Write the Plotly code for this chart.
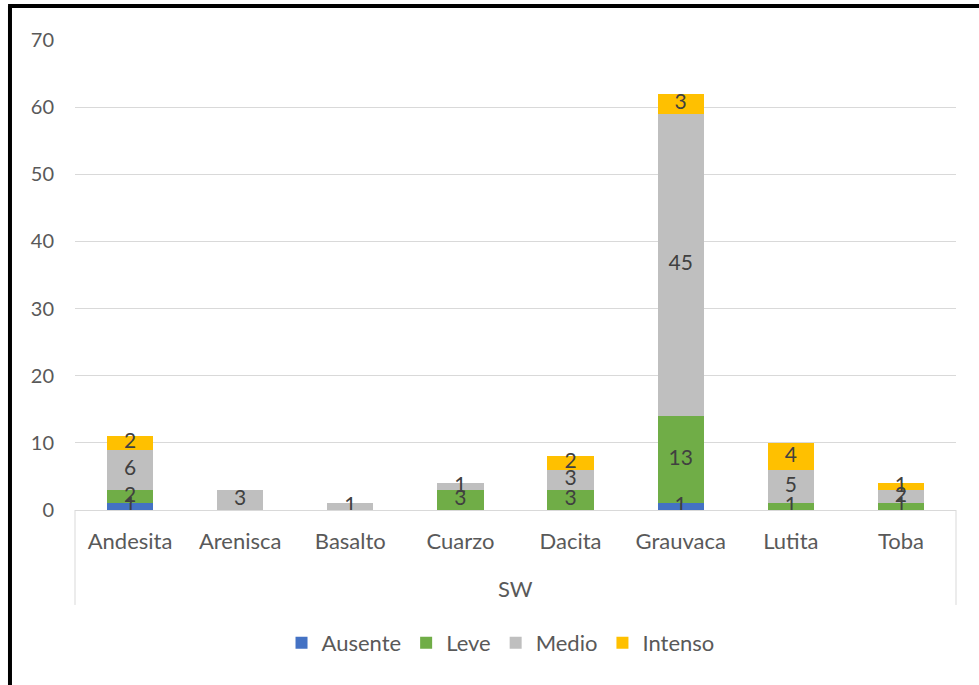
import plotly.graph_objects as go

# Rock types grouped under the "SW" sector
group = "SW"
rocks = ["Andesita", "Arenisca", "Basalto", "Cuarzo", "Dacita", "Grauvaca", "Lutita", "Toba"]

# Counts per alteration level
ausente = [1, 0, 0, 0, 0, 1, 0, 0]
leve = [2, 0, 0, 3, 3, 13, 1, 1]
medio = [6, 3, 1, 1, 3, 45, 5, 2]
intenso = [2, 0, 0, 0, 2, 3, 4, 1]

series = [
    ("Ausente", ausente, "#4472C4"),
    ("Leve", leve, "#70AD47"),
    ("Medio", medio, "#BFBFBF"),
    ("Intenso", intenso, "#FFC000"),
]

y_ticks = [0, 10, 20, 30, 40, 50, 60, 70]

FONT = "Lato, Carlito, Calibri, sans-serif"
TXT = "#595959"

fig = go.Figure()
for name, vals, color in series:
    fig.add_trace(go.Bar(
        name=name, x=rocks, y=vals,
        marker=dict(color=color, line=dict(width=0)),
        hoverinfo="y+name",
    ))

# Segment labels centred on each stacked piece
lx, ly, lt = [], [], []
base = [0] * len(rocks)
for name, vals, color in series:
    for i, v in enumerate(vals):
        if v > 0:
            lx.append(rocks[i])
            ly.append(base[i] + v / 2)
            lt.append(str(v))
        base[i] += v
fig.add_trace(go.Scatter(
    x=lx, y=ly, text=lt, mode="text",
    textfont=dict(family=FONT, size=21, color="#404040"),
    showlegend=False, hoverinfo="skip",
))

fig.update_layout(
    barmode="stack",
    bargap=0.58,
    width=979, height=685,
    margin=dict(l=75, r=23, t=40, b=175),
    paper_bgcolor="white", plot_bgcolor="white",
    font=dict(family=FONT, size=21, color=TXT),
    xaxis=dict(
        type="category",
        showline=True, linecolor="#D9D9D9", linewidth=1,
        ticks="", showgrid=False,
        tickfont=dict(family=FONT, size=22, color=TXT),
        ticklabelstandoff=12,
    ),
    yaxis=dict(
        range=[0, 70], tickvals=y_ticks,
        showgrid=True, gridcolor="#D9D9D9", gridwidth=1,
        zeroline=False, showline=False, ticks="",
        tickfont=dict(family=FONT, size=20, color=TXT),
        ticklabelstandoff=20,
    ),
    legend=dict(
        orientation="h", x=0.483, xanchor="center", y=-0.283, yanchor="middle",
        font=dict(family=FONT, size=22, color=TXT),
        itemwidth=30, traceorder="normal",
    ),
    showlegend=True,
)

# Group label and its divider lines below the category axis
fig.add_annotation(text=group, xref="paper", yref="paper", x=0.5, y=-0.166,
                   showarrow=False, font=dict(family=FONT, size=22, color=TXT),
                   yanchor="middle")
for xp in (0, 1):
    fig.add_shape(type="line", xref="paper", yref="paper",
                  x0=xp, x1=xp, y0=0, y1=-0.202,
                  line=dict(color="#D9D9D9", width=1))

# Frame lines along the left and top edges
fig.add_shape(type="line", xref="paper", yref="paper",
              x0=-0.0738, x1=-0.0738, y0=1.0723, y1=-0.38,
              line=dict(color="black", width=4))
fig.add_shape(type="line", xref="paper", yref="paper",
              x0=-0.076, x1=1.03, y0=1.0723, y1=1.0723,
              line=dict(color="black", width=4))

fig.write_html("out.html")
